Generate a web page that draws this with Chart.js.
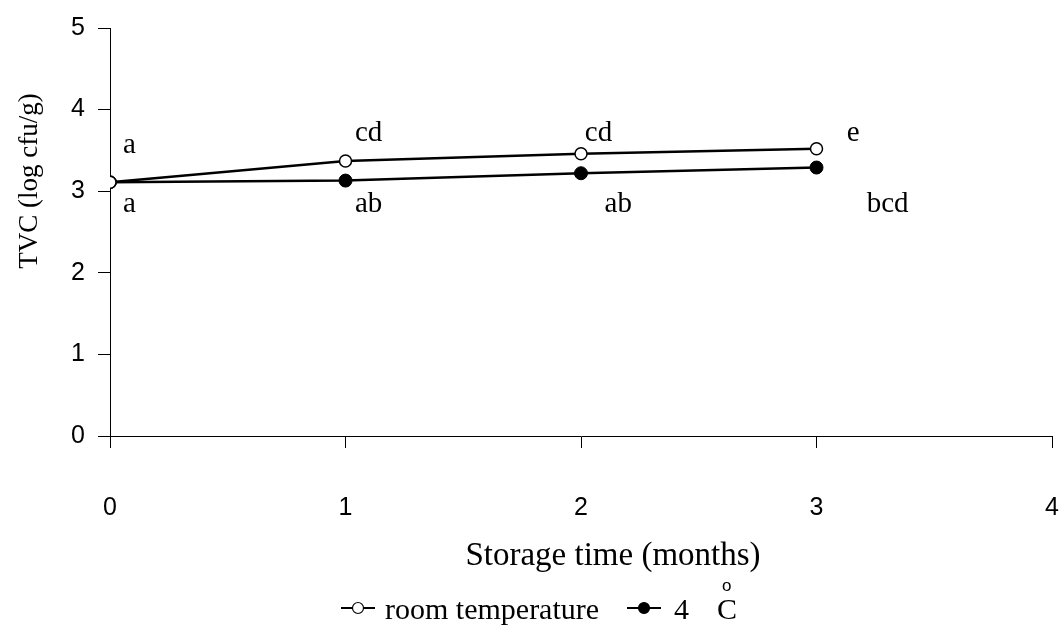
<!DOCTYPE html>
<html>
<head>
<meta charset="utf-8">
<script src="https://cdn.jsdelivr.net/npm/chart.js@4.4.1/dist/chart.umd.min.js"></script>
<style>
  html, body { margin: 0; padding: 0; background: #fff; }
  #wrap { width: 1060px; height: 630px; }
</style>
</head>
<body>
<div id="wrap"><canvas id="c" width="1060" height="630"></canvas></div>
<script>
// Storage time (months)
const months = [0, 1, 2, 3];
const xTicks = [0, 1, 2, 3, 4];
const yTicks = [0, 1, 2, 3, 4, 5];

// Total viable count, log cfu/g
const roomTemp = [3.11, 3.37, 3.46, 3.52];
const cold4C = [3.11, 3.13, 3.22, 3.29];

// Significance letters for each storage point
const roomLetters = ['a', 'cd', 'cd', 'e'];
const coldLetters = ['a', 'ab', 'ab', 'bcd'];

// Anchor of each letter group in axis units (left edge, vertical middle)
const roomLetterAt = [[0.055, 3.56], [1.04, 3.71], [2.016, 3.71], [3.128, 3.71]];
const coldLetterAt = [[0.055, 2.84], [1.04, 2.84], [2.10, 2.84], [3.213, 2.84]];

const serif = '"Liberation Serif", "Times New Roman", serif';
const sans = '"Liberation Sans", Arial, sans-serif';

const lettersPlugin = {
  id: 'letters',
  afterDatasetsDraw(chart) {
    const { ctx, scales: { x, y } } = chart;
    ctx.save();
    ctx.fillStyle = '#000';
    ctx.font = '29px ' + serif;
    ctx.textAlign = 'left';
    ctx.textBaseline = 'middle';
    const put = (letters, at) => letters.forEach((t, i) => {
      ctx.fillText(t, x.getPixelForValue(at[i][0]), y.getPixelForValue(at[i][1]));
    });
    put(roomLetters, roomLetterAt);
    put(coldLetters, coldLetterAt);
    ctx.restore();
  }
};

// Axis titles and the legend row at the bottom
const textPlugin = {
  id: 'axisText',
  afterDraw(chart) {
    const { ctx } = chart;
    ctx.save();
    ctx.fillStyle = '#000';
    ctx.textBaseline = 'middle';
    ctx.textAlign = 'center';

    // vertical axis title
    ctx.save();
    ctx.translate(30, 181);
    ctx.rotate(-Math.PI / 2);
    ctx.font = '27px ' + serif;
    ctx.fillText('TVC (log cfu/g)', 0, 0);
    ctx.restore();

    // horizontal axis title
    ctx.font = '33px ' + serif;
    ctx.fillText('Storage time (months)', 613, 556);

    const yMid = 608;
    ctx.textAlign = 'left';
    const swatch = (x0, filled) => {
      ctx.strokeStyle = '#000';
      ctx.lineWidth = 2;
      ctx.beginPath();
      ctx.moveTo(x0, yMid);
      ctx.lineTo(x0 + 34, yMid);
      ctx.stroke();
      ctx.beginPath();
      ctx.arc(x0 + 17, yMid, 5.5, 0, Math.PI * 2);
      ctx.fillStyle = filled ? '#000' : '#fff';
      ctx.fill();
      ctx.lineWidth = 1.2;
      ctx.stroke();
    };
    const ds = chart.data.datasets;
    swatch(341, false);
    ctx.fillStyle = '#000';
    ctx.font = '30px ' + serif;
    ctx.fillText(ds[0].label, 385, yMid + 3);
    swatch(627, true);
    ctx.fillStyle = '#000';
    ctx.font = '30px ' + serif;
    ctx.fillText('4', 674, yMid + 3);
    ctx.font = '17px ' + sans;
    ctx.fillText('o', 722, yMid - 22);
    ctx.font = '30px ' + serif;
    ctx.fillText('C', 717, yMid + 3);
    ctx.restore();
  }
};

new Chart(document.getElementById('c'), {
  type: 'line',
  data: {
    datasets: [
      {
        label: 'room temperature',
        data: months.map((m, i) => ({ x: m, y: roomTemp[i] })),
        borderColor: '#000',
        borderWidth: 2.5,
        pointRadius: 6,
        pointBackgroundColor: '#fff',
        pointBorderColor: '#000',
        pointBorderWidth: 1.5,
        tension: 0
      },
      {
        label: '4 °C',
        data: months.map((m, i) => ({ x: m, y: cold4C[i] })),
        borderColor: '#000',
        borderWidth: 2.5,
        pointRadius: 6.5,
        pointBackgroundColor: '#000',
        pointBorderColor: '#000',
        pointBorderWidth: 1,
        tension: 0
      }
    ]
  },
  options: {
    responsive: false,
    animation: false,
    events: [],
    layout: { padding: { top: 13, right: 0, bottom: 0, left: 0 }, autoPadding: false },
    plugins: { legend: { display: false }, tooltip: { enabled: false } },
    scales: {
      x: {
        type: 'linear',
        min: 0,
        max: 4,
        afterBuildTicks(scale) { scale.ticks = xTicks.map(v => ({ value: v })); },
        afterFit(scale) {
          scale.height = 194;
          scale.paddingLeft = 0;
          scale.paddingRight = 8;
        },
        grid: { drawOnChartArea: false, drawTicks: true, tickLength: 12, color: '#000', lineWidth: 1 },
        border: { display: true, color: '#000', width: 1 },
        ticks: { color: '#000', font: { family: sans, size: 25 }, padding: 45, maxRotation: 0 }
      },
      y: {
        min: 0,
        max: 5,
        afterBuildTicks(scale) { scale.ticks = yTicks.map(v => ({ value: v })); },
        afterFit(scale) { scale.width = 110; },
        grid: { drawOnChartArea: false, drawTicks: true, tickLength: 12, color: '#000', lineWidth: 1 },
        border: { display: true, color: '#000', width: 1 },
        ticks: { color: '#000', font: { family: sans, size: 25 }, padding: 13 }
      }
    }
  },
  plugins: [lettersPlugin, textPlugin]
});
</script>
</body>
</html>
